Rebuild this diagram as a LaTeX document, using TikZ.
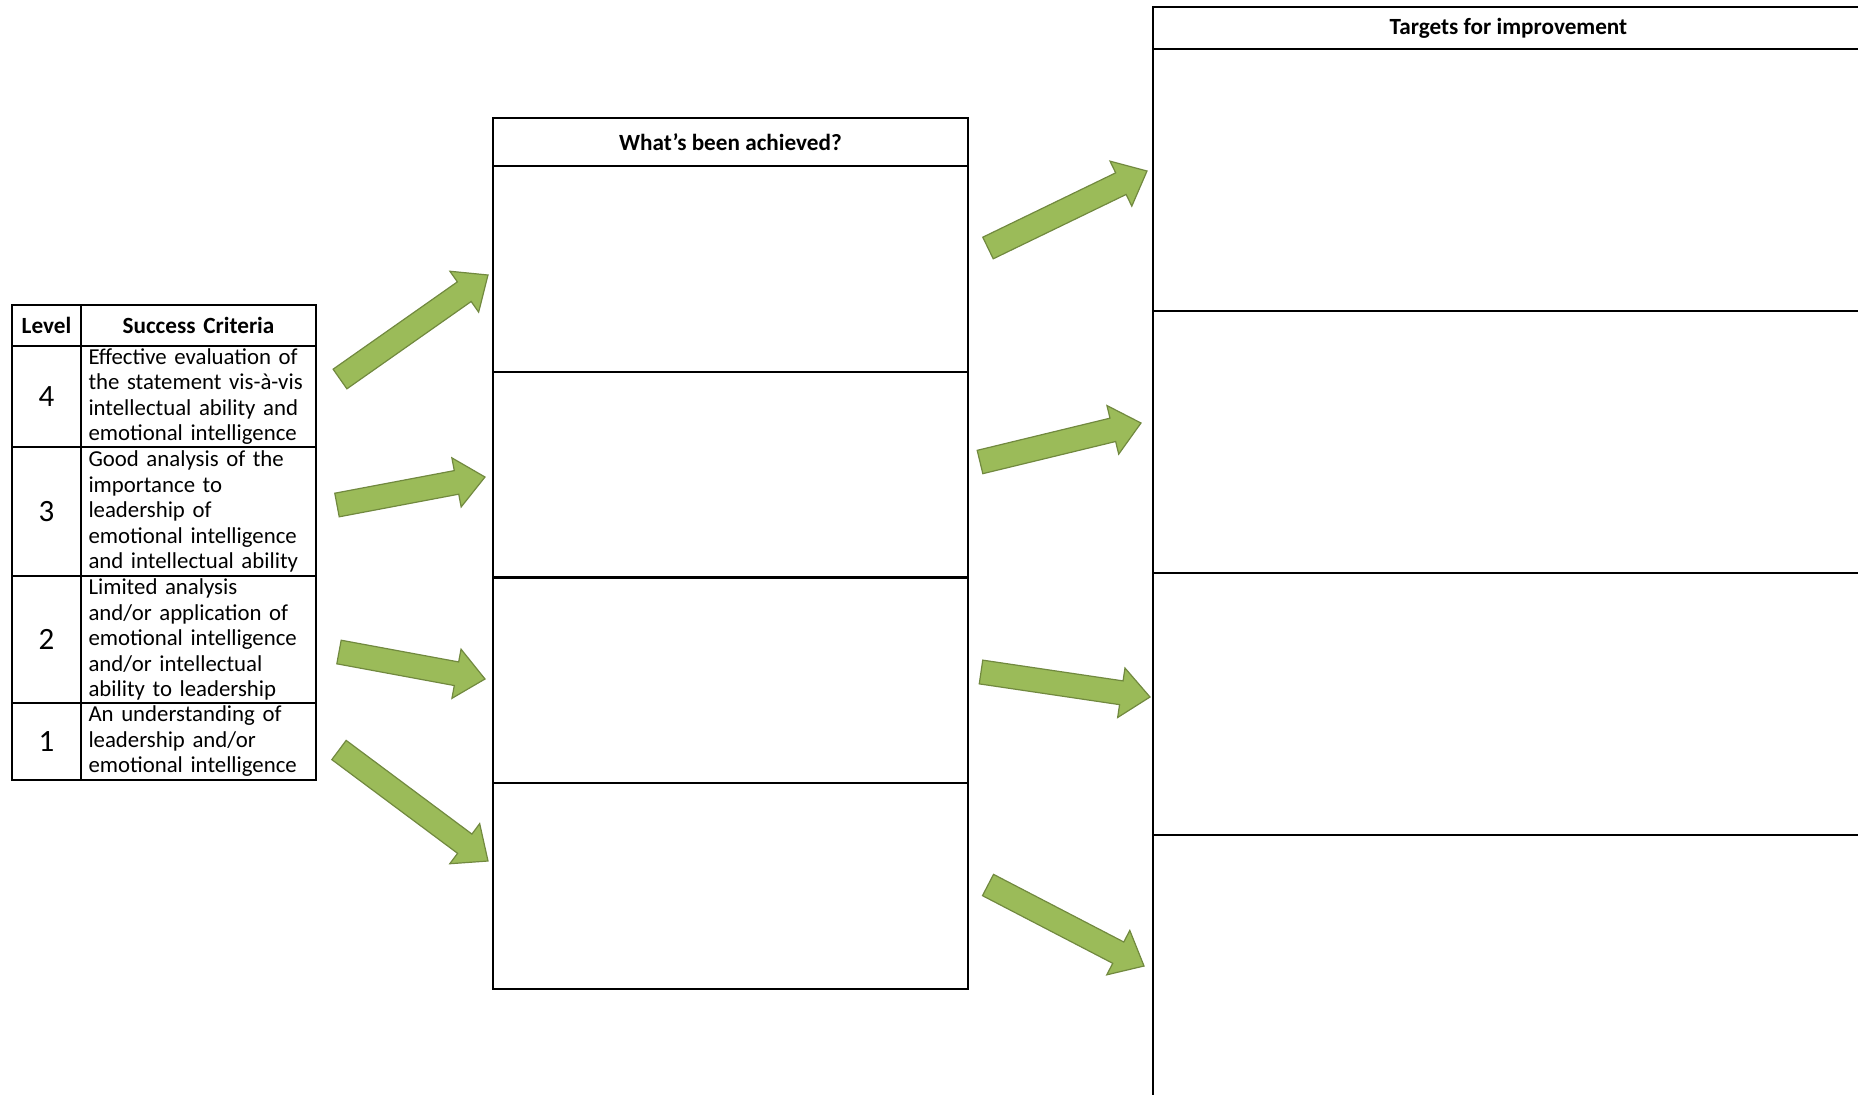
\documentclass[tikz,border=0pt]{standalone}
\usepackage{fontspec}
\setmainfont{Carlito}
\usepackage{xcolor}
\usepackage{tikz}
\usetikzlibrary{calc}

\definecolor{arrowFill}{HTML}{9BBB59}
\definecolor{arrowLine}{HTML}{71893F}

\tikzstyle{tsText} = [
    text=black,
    font=\fontsize{11.4}{12.75}\selectfont
]
\tikzstyle{tsBold} = [
    text=black,
    font=\fontsize{11.6}{12.75}\selectfont\bfseries
]
\tikzstyle{tsRectangle} = [
    rectangle,
    draw=black,
    line width=1pt,
    inner sep=0pt
]
\tikzstyle{tsCriteria} = [
    tsRectangle,
    tsText,
    minimum width=117.5pt,
    text width=110pt,
    align=left
]
\tikzstyle{tsLevel} = [
    tsRectangle,
    minimum width=34.5pt,
    font=\fontsize{15.5}{17}\selectfont
]
\tikzstyle{tsArrow} = [
    fill=arrowFill,
    draw=arrowLine,
    line width=0.6pt,
    line join=miter
]

% block arrow from #1 to #2
\newcommand{\fatArrow}[2]{%
  \coordinate (hb) at ($(#2)!14.5pt!(#1)$);
  \draw[tsArrow] ($(#1)!6pt!90:(#2)$) -- ($(hb)!6pt!90:(#2)$)
    -- ($(hb)!12.5pt!90:(#2)$) -- (#2) -- ($(hb)!12.5pt!-90:(#2)$)
    -- ($(hb)!6pt!-90:(#2)$) -- ($(#1)!6pt!-90:(#2)$) -- cycle;
}

\begin{document}
\begin{tikzpicture}[x=0.5pt, y=-0.5pt]

    \useasboundingbox (0,0) rectangle (1858,1094);
    \clip (0,0) rectangle (1858,1094);

    % success criteria table
    \node[tsLevel, tsBold, minimum height=20.5pt] (lvlHead) at (46.5,325.5) {Level};
    \node[tsCriteria, tsBold, align=center, minimum height=20.5pt] (critHead) at (198.5,325.5) {Success Criteria};

    \node[tsLevel, minimum height=50.5pt] (lvl4) at (46.5,396.5) {4};
    \node[tsCriteria, minimum height=50.5pt] (crit4) at (198.5,396.5)
        {Effective evaluation of\\\mbox{the statement vis-à-vis}\\intellectual ability and\\emotional intelligence};

    \node[tsLevel, minimum height=64.5pt] (lvl3) at (46.5,511.5) {3};
    \node[tsCriteria, minimum height=64.5pt] (crit3) at (198.5,511.5)
        {Good analysis of the\\importance to\\leadership of\\emotional intelligence\\and intellectual ability};

    \node[tsLevel, minimum height=63.5pt] (lvl2) at (46.5,639.5) {2};
    \node[tsCriteria, minimum height=63.5pt] (crit2) at (198.5,639.5)
        {Limited analysis\\and/or application of\\emotional intelligence\\and/or intellectual\\ability to leadership};

    \node[tsLevel, minimum height=38.5pt] (lvl1) at (46.5,741.5) {1};
    \node[tsCriteria, minimum height=38.5pt] (crit1) at (198.5,741.5)
        {An understanding of\\leadership and/or\\emotional intelligence};

    % what's been achieved
    \node[tsRectangle, tsBold, minimum width=237.5pt, minimum height=24pt] (achHead) at (730.5,142) {What’s been achieved?};
    \node[tsRectangle, minimum width=237.5pt, minimum height=102.875pt] (ach1) at (730.5,268.9) {};
    \node[tsRectangle, minimum width=237.5pt, minimum height=102.875pt] (ach2) at (730.5,474.6) {};
    \node[tsRectangle, minimum width=237.5pt, minimum height=102.875pt] (ach3) at (730.5,680.4) {};
    \node[tsRectangle, minimum width=237.5pt, minimum height=102.875pt] (ach4) at (730.5,886.1) {};

    % targets for improvement
    \node[tsRectangle, tsBold, minimum width=355.5pt, minimum height=21pt] (tgtHead) at (1508.5,28) {Targets for improvement};
    \node[tsRectangle, minimum width=355.5pt, minimum height=131pt] (tgt1) at (1508.5,180) {};
    \node[tsRectangle, minimum width=355.5pt, minimum height=131pt] (tgt2) at (1508.5,442) {};
    \node[tsRectangle, minimum width=355.5pt, minimum height=131pt] (tgt3) at (1508.5,704) {};
    \node[tsRectangle, minimum width=355.5pt, minimum height=131pt] (tgt4) at (1508.5,966) {};

    % arrow ends
    \coordinate (crit4s) at (340,379);
    \coordinate (crit3s) at (337,505);
    \coordinate (crit2s) at (339,652);
    \coordinate (crit1s) at (339,750);
    \coordinate (ach1e) at (488,275);
    \coordinate (ach2e) at (485,477);
    \coordinate (ach3e) at (485,679);
    \coordinate (ach4e) at (488,861);

    \coordinate (ach1s) at (988,248);
    \coordinate (ach2s) at (980,462);
    \coordinate (ach3s) at (981,672);
    \coordinate (ach4s) at (988,885);
    \coordinate (tgt1e) at (1147,171);
    \coordinate (tgt2e) at (1141,423);
    \coordinate (tgt3e) at (1150,697);
    \coordinate (tgt4e) at (1144,966);

    \fatArrow{crit4s}{ach1e}
    \fatArrow{crit3s}{ach2e}
    \fatArrow{crit2s}{ach3e}
    \fatArrow{crit1s}{ach4e}

    \fatArrow{ach1s}{tgt1e}
    \fatArrow{ach2s}{tgt2e}
    \fatArrow{ach3s}{tgt3e}
    \fatArrow{ach4s}{tgt4e}

\end{tikzpicture}
\end{document}
